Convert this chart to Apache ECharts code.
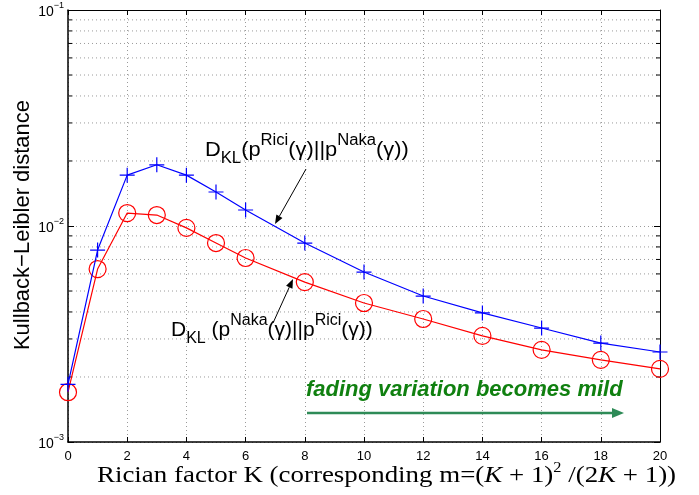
<!DOCTYPE html>
<html><head><meta charset="utf-8">
<script src="https://cdn.jsdelivr.net/npm/echarts@6/dist/echarts.min.js"></script>
<style>html,body{margin:0;padding:0;background:#fff}#c{width:699px;height:495px}</style>
</head><body><div id="c"></div>
<script>
const K = [0, 1, 2, 3, 4, 5, 6, 8, 10, 12, 14, 16, 18, 20];
const dRiciNaka = [0.00185, 0.00774, 0.0172, 0.0192, 0.0172, 0.01437, 0.01186, 0.00834, 0.00612, 0.00474, 0.00396, 0.00337, 0.00287, 0.00261];
const dNakaRici = [0.0017, 0.00632, 0.01148, 0.01124, 0.0098, 0.00834, 0.00711, 0.0055, 0.0044, 0.00371, 0.0031, 0.00267, 0.0024, 0.00218];
const yMinorTicks = [0.002, 0.003, 0.004, 0.005, 0.006, 0.007, 0.008, 0.009, 0.02, 0.03, 0.04, 0.05, 0.06, 0.07, 0.08, 0.09];
const xMin = 0, xMax = 20, xStep = 2;
const yMin = 0.001, yMax = 0.1;

const chart = echarts.init(document.getElementById('c'), null, {renderer: 'canvas'});
const sans = 'Liberation Sans';
const dotted = {color: '#9a9a9a', width: 1, type: [1, 3]};

function arrowEls(x1, y1, x2, y2, color, w, hl, hw) {
  const dx = x2 - x1, dy = y2 - y1, L = Math.hypot(dx, dy);
  const ux = dx / L, uy = dy / L, px = -uy, py = ux;
  const bx = x2 - ux * hl, by = y2 - uy * hl;
  return [
    {type: 'line', shape: {x1, y1, x2: bx, y2: by}, style: {stroke: color, lineWidth: w}, z: 50},
    {type: 'polygon', shape: {points: [[x2, y2], [bx + px * hw, by + py * hw], [bx - px * hw, by - py * hw]]}, style: {fill: color}, z: 50}
  ];
}

const mainRich = {
  m: {fontSize: 21, fontFamily: sans, lineHeight: 34, verticalAlign: 'middle', color: '#000'},
  sub: {fontSize: 16, fontFamily: sans, lineHeight: 16, verticalAlign: 'bottom', color: '#000'},
  sup: {fontSize: 16, fontFamily: sans, lineHeight: 16, verticalAlign: 'top', color: '#000'}
};

const option = {
  animation: false,
  backgroundColor: '#fff',
  grid: {left: 68, right: 39, top: 10, bottom: 53, containLabel: false},
  xAxis: [{
    type: 'value', min: xMin, max: xMax, interval: xStep,
    axisLine: {show: true, onZero: false, lineStyle: {color: '#000', width: 1.5}},
    axisTick: {show: true, inside: true, length: 5, lineStyle: {color: '#000'}},
    axisLabel: {fontFamily: sans, fontSize: 13, color: '#000', margin: 8},
    splitLine: {show: true, lineStyle: dotted}
  }, {
    type: 'value', position: 'top', min: xMin, max: xMax, interval: xStep,
    axisLine: {show: true, onZero: false, lineStyle: {color: '#000', width: 1}},
    axisTick: {show: true, inside: true, length: 5, lineStyle: {color: '#000'}},
    axisLabel: {show: false}, splitLine: {show: false}
  }],
  yAxis: [{
    type: 'log', logBase: 10, min: yMin, max: yMax,
    axisLine: {show: true, onZero: false, lineStyle: {color: '#000', width: 1.5}},
    axisTick: {show: true, inside: true, length: 6, lineStyle: {color: '#000'}},
    axisLabel: {
      margin: 4, color: '#000',
      formatter: v => '{b|10}{s|−' + Math.abs(Math.round(Math.log10(v))) + '}',
      rich: {
        b: {fontFamily: sans, fontSize: 14, lineHeight: 18, verticalAlign: 'bottom', color: '#000'},
        s: {fontFamily: sans, fontSize: 9, lineHeight: 10, verticalAlign: 'top', color: '#000'}
      }
    },
    splitLine: {show: true, lineStyle: dotted}
  }, {
    type: 'log', logBase: 10, min: yMin, max: yMax, position: 'right',
    axisLine: {show: true, onZero: false, lineStyle: {color: '#000', width: 1}},
    axisTick: {show: true, inside: true, length: 6, lineStyle: {color: '#000'}},
    axisLabel: {show: false}, splitLine: {show: false}
  }],
  series: [{
    type: 'custom', xAxisIndex: 0, yAxisIndex: 0, silent: true, z: 1,
    data: yMinorTicks.map(v => [xMin, v]),
    renderItem: (params, api) => {
      const v = api.value(1);
      const a = api.coord([xMin, v]), b = api.coord([xMax, v]);
      return {type: 'group', children: [
        {type: 'line', shape: {x1: a[0], y1: a[1], x2: b[0], y2: b[1]}, style: {stroke: '#9a9a9a', lineWidth: 1, lineDash: [1, 3]}},
        {type: 'line', shape: {x1: a[0], y1: a[1], x2: a[0] + 4, y2: a[1]}, style: {stroke: '#000', lineWidth: 1}},
        {type: 'line', shape: {x1: b[0] - 4, y1: b[1], x2: b[0], y2: b[1]}, style: {stroke: '#000', lineWidth: 1}}
      ]};
    }
  }, {
    name: 'DKL(Rici||Naka)', type: 'line', z: 5,
    data: K.map((k, i) => [k, dRiciNaka[i]]),
    symbol: 'path://M0,-10L0,10M-10,0L10,0', symbolSize: 15, symbolKeepAspect: true,
    itemStyle: {color: 'rgba(0,0,0,0)', borderColor: '#0000ff', borderWidth: 1.2},
    lineStyle: {color: '#0000ff', width: 1.2}
  }, {
    name: 'DKL(Naka||Rici)', type: 'line', z: 4,
    data: K.map((k, i) => [k, dNakaRici[i]]),
    symbol: 'circle', symbolSize: 17,
    itemStyle: {color: 'rgba(0,0,0,0)', borderColor: '#ff0000', borderWidth: 1.2},
    lineStyle: {color: '#ff0000', width: 1.2}
  }],
  graphic: [
    {type: 'text', left: 205, top: 133, z: 60, scaleX: 1.04, style: {
      text: '{m|D}{sub|KL}{m|(p}{sup|Rici}{m|(γ)||p}{sup|Naka}{m|(γ))}', rich: mainRich}},
    {type: 'text', left: 171, top: 313, z: 60, style: {
      text: '{m|D}{sub|KL}{m| (p}{sup|Naka}{m|(γ)||p}{sup|Rici}{m|(γ))}', rich: mainRich}},
    ...arrowEls(306, 169, 275, 224, '#000', 1, 9, 3.5),
    ...arrowEls(273, 323, 293, 279, '#000', 1, 9, 3.5),
    ...arrowEls(307, 413, 624, 413, '#2e8b57', 2.5, 12, 5),
    {type: 'text', left: 306, top: 379, z: 60, style: {
      text: 'fading variation becomes mild', fontFamily: sans, fontSize: 22, fontWeight: 'bold', fontStyle: 'italic', fill: '#108010'}},
    {type: 'text', x: 97, y: 461, scaleX: 1.17, z: 60, style: {
      text: '{r|Rician factor K (corresponding m=(}{i|K}{r| + 1)}{s|2}{r| /(2}{i|K}{r| + 1))}',
      rich: {
        r: {fontFamily: 'Liberation Serif', fontSize: 23, lineHeight: 30, verticalAlign: 'middle', color: '#000'},
        i: {fontFamily: 'Liberation Serif', fontStyle: 'italic', fontSize: 23, lineHeight: 30, verticalAlign: 'middle', color: '#000'},
        s: {fontFamily: 'Liberation Serif', fontSize: 14, lineHeight: 14, verticalAlign: 'top', color: '#000'}
      }}},
    {type: 'text', x: 23, y: 225, rotation: Math.PI / 2, z: 60, style: {
      text: 'Kullback−Leibler distance', fontFamily: sans, fontSize: 22, fill: '#000', align: 'center', verticalAlign: 'middle'}}
  ]
};
chart.setOption(option);
</script></body></html>
